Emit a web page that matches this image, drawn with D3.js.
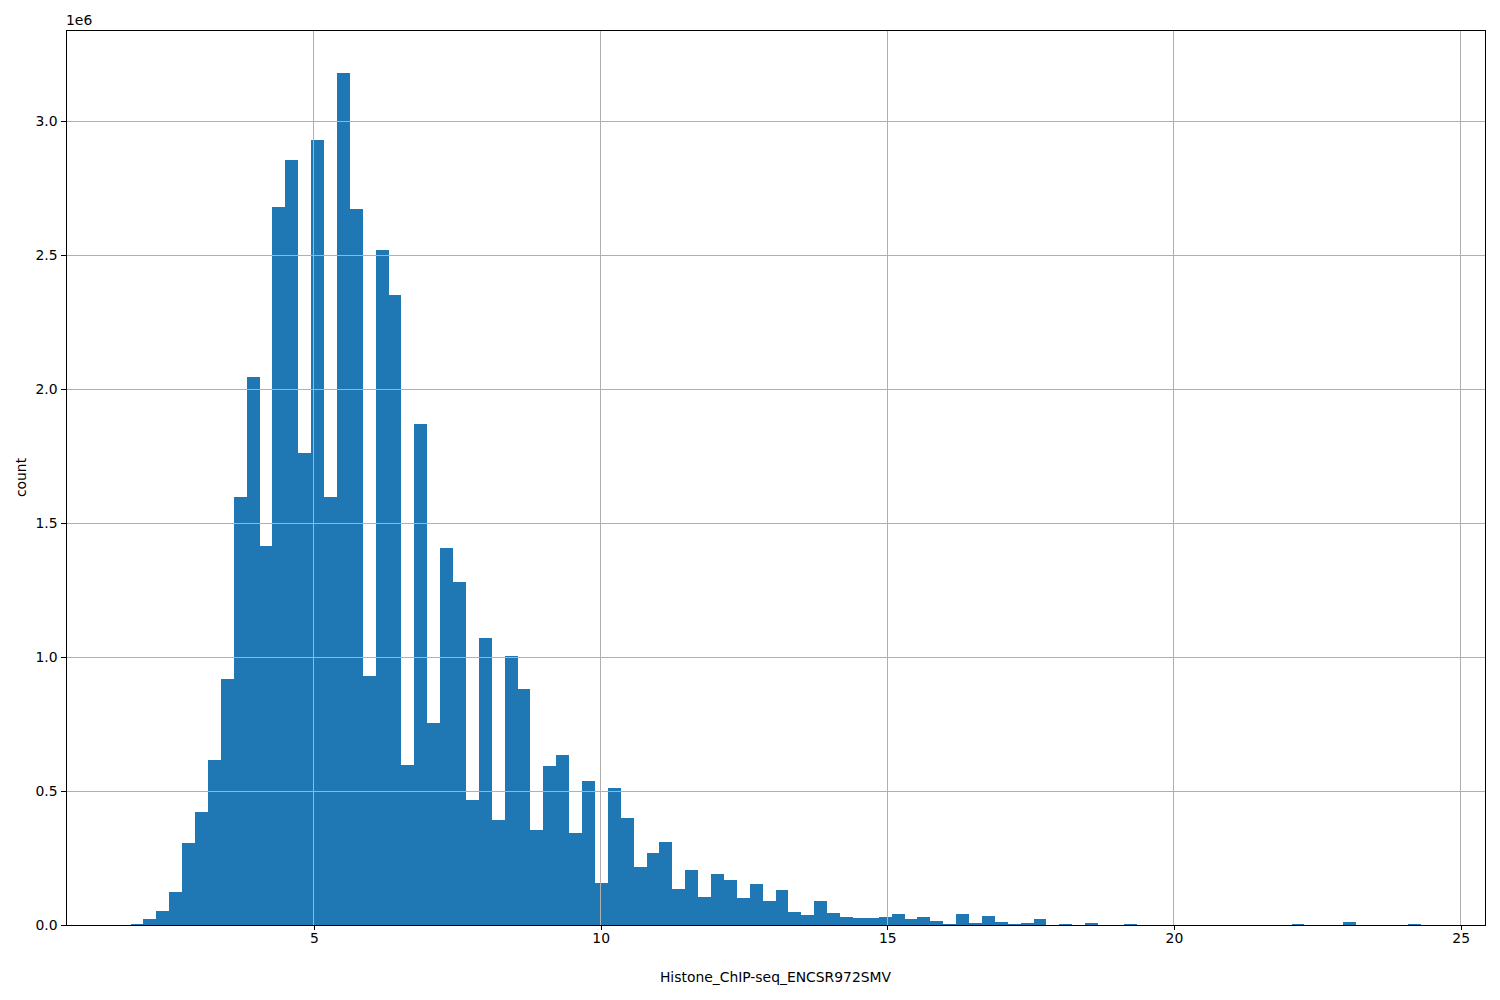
<!DOCTYPE html>
<html>
<head>
<meta charset="utf-8">
<script src="https://cdn.jsdelivr.net/npm/d3@7"></script>
<style>
  body { margin: 0; background: #fff; }
  svg text { font-family: "DejaVu Sans", sans-serif; fill: #000; }
</style>
</head>
<body>
<svg id="chart" width="1500" height="1000"></svg>
<script>
// Histogram of Histone_ChIP-seq_ENCSR972SMV, 100 equal bins
const dataMin = 1.80;
const dataMax = 24.30;
const nBins = 100;
const counts = [
  5000, 21000, 51000, 122000, 307000, 422000, 615000, 918000, 1597000, 2045000,
  1415000, 2682000, 2854000, 1762000, 2931000, 1597000, 3182000, 2674000, 930000, 2521000,
  2352000, 597000, 1871000, 755000, 1408000, 1282000, 465000, 1073000, 393000, 1006000,
  882000, 353000, 595000, 636000, 342000, 539000, 155000, 513000, 401000, 218000,
  270000, 308000, 136000, 207000, 106000, 191000, 168000, 101000, 153000, 90000,
  131000, 49000, 37000, 90000, 45000, 30000, 26000, 26000, 30000, 41000,
  22000, 30000, 15000, 4000, 41000, 7500, 34000, 11000, 4000, 7500,
  22000, 1000, 4000, 500, 7500, 500, 500, 4000, 0, 0,
  0, 0, 0, 0, 0, 0, 0, 0, 0, 0,
  4000, 0, 0, 0, 11000, 0, 0, 0, 0, 4000
];
const xTicks = [5, 10, 15, 20, 25];
const yTicks = [0, 0.5e6, 1.0e6, 1.5e6, 2.0e6, 2.5e6, 3.0e6];
const xLabel = "Histone_ChIP-seq_ENCSR972SMV";
const yLabel = "count";
const barColor = "#1f77b4";

const binWidth = (dataMax - dataMin) / nBins;
const bins = counts.map((c, i) => ({ x0: dataMin + i * binWidth, x1: dataMin + (i + 1) * binWidth, count: c }));

const L = 66, R = 1485, T = 30, B = 925;
const span = dataMax - dataMin;
const x = d3.scaleLinear().domain([dataMin - 0.05 * span, dataMax + 0.05 * span]).range([L, R]);
const yMax = d3.max(counts) * 1.05;
const y = d3.scaleLinear().domain([0, yMax]).range([B, T]);

const svg = d3.select("#chart");
svg.append("rect").attr("width", 1500).attr("height", 1000).attr("fill", "#fff");

// bars
svg.append("g").selectAll("rect").data(bins.filter(d => d.count > 0)).join("rect")
  .attr("x", d => x(d.x0))
  .attr("width", d => x(d.x1) - x(d.x0))
  .attr("y", d => y(d.count))
  .attr("height", d => B - y(d.count))
  .attr("fill", barColor)
  .attr("shape-rendering", "crispEdges");

// grid (above patches, as matplotlib default)
const grid = svg.append("g").attr("stroke", "#b0b0b0").attr("stroke-width", 1).attr("shape-rendering", "crispEdges");
xTicks.forEach(t => grid.append("line").attr("x1", x(t)).attr("x2", x(t)).attr("y1", T).attr("y2", B));
yTicks.forEach(t => grid.append("line").attr("x1", L).attr("x2", R).attr("y1", y(t)).attr("y2", y(t)));

// axes
const fmt = d3.format(".1f");
const xAxis = d3.axisBottom(x).tickValues(xTicks).tickSize(4.9).tickPadding(3.5).tickFormat(d3.format("d"));
const yAxis = d3.axisLeft(y).tickValues(yTicks).tickSize(4.9).tickPadding(3.5).tickFormat(d => fmt(d / 1e6));
const gx = svg.append("g").attr("transform", `translate(0,${B})`).call(xAxis);
const gy = svg.append("g").attr("transform", `translate(${L},0)`).call(yAxis);
[gx, gy].forEach(g => {
  g.select(".domain").remove();
  g.selectAll(".tick line").attr("stroke", "#000").attr("stroke-width", 1).attr("shape-rendering", "crispEdges");
  g.selectAll(".tick text").attr("font-size", "13.9px").attr("font-family", "DejaVu Sans, sans-serif").attr("fill", "#000");
});

// spines
svg.append("rect").attr("x", L).attr("y", T).attr("width", R - L).attr("height", B - T)
  .attr("fill", "none").attr("stroke", "#000").attr("stroke-width", 1).attr("shape-rendering", "crispEdges");

// offset text
svg.append("text").attr("x", L).attr("y", 25).attr("font-size", "13.9px").text("1e6");

// labels
svg.append("text").attr("x", (L + R) / 2).attr("y", 982).attr("text-anchor", "middle")
  .attr("font-size", "13.9px").text(xLabel);
svg.append("text").attr("transform", `translate(25.5,${(T + B) / 2}) rotate(-90)`).attr("text-anchor", "middle")
  .attr("font-size", "13.9px").text(yLabel);
</script>
</body>
</html>
